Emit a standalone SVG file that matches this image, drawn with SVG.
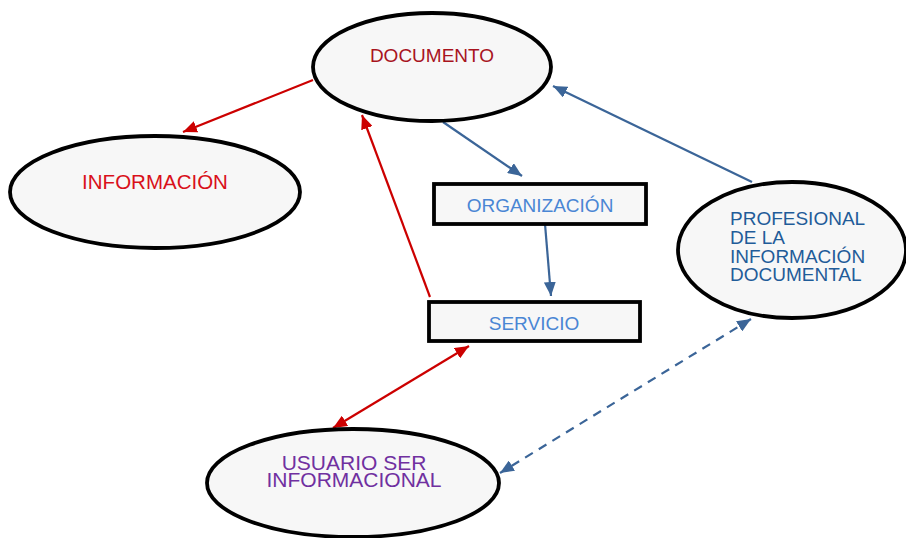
<svg xmlns="http://www.w3.org/2000/svg" width="906" height="538" viewBox="0 0 906 538">
<style>
.node{fill:#F7F7F7;stroke:#000;stroke-width:3.8}
.t{font-family:"Liberation Sans",Arial,sans-serif;font-size:19px}
.red{stroke:#CC0000;stroke-width:2.2;fill:none}
.blue{stroke:#3B6598;stroke-width:2.2;fill:none}
</style>
<defs>
<marker id="ar" viewBox="0 0 14 12" refX="14" refY="6" markerWidth="14" markerHeight="12" markerUnits="userSpaceOnUse" orient="auto-start-reverse"><path d="M0,0 L14,6 L0,12 Z" fill="#CC0000"/></marker>
<marker id="ab" viewBox="0 0 14 12" refX="14" refY="6" markerWidth="14" markerHeight="12" markerUnits="userSpaceOnUse" orient="auto-start-reverse"><path d="M0,0 L14,6 L0,12 Z" fill="#3B6598"/></marker>
</defs>
<g id="connectors">
<line class="red" x1="313" y1="80" x2="183" y2="132" marker-end="url(#ar)"/>
<line class="red" x1="430" y1="297" x2="362" y2="115" marker-end="url(#ar)"/>
<line class="blue" x1="443" y1="122" x2="522" y2="176" marker-end="url(#ab)"/>
<line class="blue" x1="545" y1="224" x2="551" y2="296" marker-end="url(#ab)"/>
<line class="blue" x1="752" y1="182" x2="553" y2="86" marker-end="url(#ab)"/>
<line class="red" x1="469" y1="346" x2="333" y2="428" marker-start="url(#ar)" marker-end="url(#ar)"/>
<line class="blue" x1="751" y1="319" x2="500" y2="473" stroke-dasharray="9,7" marker-start="url(#ab)" marker-end="url(#ab)"/>
</g>
<g id="documento">
<ellipse class="node" cx="432" cy="67" rx="119" ry="54"/>
<text class="t" x="432" y="62" text-anchor="middle" fill="#A8141E">DOCUMENTO</text>
</g>
<g id="informacion">
<ellipse class="node" cx="155" cy="192" rx="145" ry="56"/>
<text class="t" x="155" y="189" text-anchor="middle" fill="#D9101A" style="font-size:20.5px">INFORMACIÓN</text>
</g>
<g id="organizacion">
<rect class="node" x="434" y="184" width="212" height="40"/>
<text class="t" x="540" y="212" text-anchor="middle" fill="#4A86D4">ORGANIZACIÓN</text>
</g>
<g id="servicio">
<rect class="node" x="429" y="302" width="211" height="39"/>
<text class="t" x="534" y="330" text-anchor="middle" fill="#4A86D4">SERVICIO</text>
</g>
<g id="profesional">
<ellipse class="node" cx="792" cy="250" rx="114" ry="68"/>
<text class="t" fill="#1F5C99"><tspan x="730" y="225">PROFESIONAL</tspan><tspan x="730" y="244">DE LA</tspan><tspan x="730" y="263">INFORMACIÓN</tspan><tspan x="730" y="281">DOCUMENTAL</tspan></text>
</g>
<g id="usuario">
<ellipse class="node" cx="353" cy="483" rx="146" ry="54"/>
<text class="t" text-anchor="middle" fill="#7030A0" style="font-size:21px"><tspan x="354" y="470">USUARIO SER</tspan><tspan x="354" y="487">INFORMACIONAL</tspan></text>
</g>
</svg>
